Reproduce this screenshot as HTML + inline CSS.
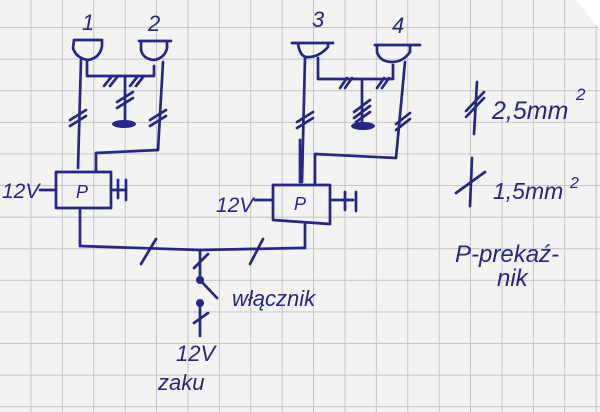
<!DOCTYPE html>
<html><head><meta charset="utf-8"><style>
html,body{margin:0;padding:0;background:#f3f3f1;}
svg{display:block}
text{font-family:"Liberation Sans",sans-serif;font-style:italic;fill:#25258a}
</style></head><body>
<svg width="600" height="412" viewBox="0 0 600 412" xmlns="http://www.w3.org/2000/svg">
<defs>
<pattern id="g" x="0" y="-3.6" width="31.4" height="31.6" patternUnits="userSpaceOnUse">
<path d="M31.4 0V31.6M0 31.6H31.4" stroke="#bdbdc2" stroke-width="1.7" fill="none"/>
</pattern>
</defs>
<rect width="600" height="412" fill="#f3f3f1"/>
<rect width="600" height="412" fill="url(#g)"/>
<polygon points="576,0 600,0 600,30" fill="#ffffff"/>
<g stroke="#25258a" stroke-width="2.7" fill="none" stroke-linecap="round" stroke-linejoin="round">
<path d="M74 40 H102 V46 Q100 58 88 60 Q76 58 73 48 Z"/>
<path d="M139 41 H171 M141 42 V50 Q143 59 154 60 Q165 58 167 48 V42"/>
<path d="M292 43 H333 M298 44 Q300 56 306 57 Q318 58 328 47 V43"/>
<path d="M375 45 H420 M377 46 V52 Q380 62 392 62 Q403 62 410 52 V46"/>
<path d="M81 60 L78 168"/>
<path d="M87 60 V76 H154 V66"/>
<path d="M125 76 V123"/>
<path d="M163 62 L158 150 L96 153 V172"/>
<path d="M56 172 H111 V208 H56 Z"/>
<path d="M40 190 H56 M111 190 H126 M118 180 V198 M126 180 V200"/>
<path d="M70 120 L86 110 M70 126 L86 116"/>
<path d="M104 86 L112 76 M110 86 L118 76 M130 86 L138 76 M136 86 L144 76"/>
<path d="M117 102 L133 92 M117 108 L133 98"/>
<path d="M150 120 L166 110 M150 126 L166 116"/>
<path d="M305 58 L302 182 M300 140 L300 182"/>
<path d="M318 58 V79 H393 V65"/>
<path d="M362 79 V125"/>
<path d="M405 62 L396 158 L315 154 V183"/>
<path d="M273 185 H330 V224 L273 220 Z"/>
<path d="M255 200 H273 M330 200 H353 M345 192 V210 M356 192 V211"/>
<path d="M297 122 L313 112 M297 128 L313 118"/>
<path d="M340 88 L347 78 M345 88 L352 78 M377 88 L384 78 M382 88 L389 78"/>
<path d="M354 112 L370 100 M354 118 L370 106 M356 122 L370 112"/>
<path d="M396 124 L410 113 M396 130 L410 119"/>
<path d="M80 208 V246 L200 250 L300 248 H305 V224"/>
<path d="M141 264 L156 239 M250 264 L263 239"/>
<path d="M200 250 V280 L217 298"/>
<path d="M194 268 L208 254"/>
<path d="M200 303 V336 M194 323 L208 313"/>
<path d="M477 82 L474 134 M466 117 L484 98 M466 111 L484 92"/>
<path d="M472 158 L470 206 M456 193 L485 172"/>
</g>
<g fill="#25258a">
<ellipse cx="124" cy="124" rx="12" ry="4"/>
<ellipse cx="363" cy="126" rx="12" ry="4"/>
<circle cx="200" cy="280" r="4"/>
<circle cx="200" cy="303" r="4"/>
</g>
<text x="82" y="30" font-size="22">1</text>
<text x="148" y="31" font-size="22">2</text>
<text x="312" y="27" font-size="22">3</text>
<text x="392" y="33" font-size="22">4</text>
<text x="76" y="198" font-size="18">P</text>
<text x="294" y="210" font-size="18">P</text>
<text x="2" y="198" font-size="21">12V</text>
<text x="216" y="212" font-size="21">12V</text>
<text x="492" y="119" font-size="25">2,5mm</text>
<text x="576" y="100" font-size="17">2</text>
<text x="493" y="199" font-size="23">1,5mm</text>
<text x="570" y="188" font-size="16">2</text>
<text x="455" y="262" font-size="24">P-prekaź-</text>
<text x="497" y="286" font-size="24">nik</text>
<text x="232" y="306" font-size="22">włącznik</text>
<text x="176" y="361" font-size="22">12V</text>
<text x="158" y="390" font-size="22">zaku</text>
</svg>
</body></html>
